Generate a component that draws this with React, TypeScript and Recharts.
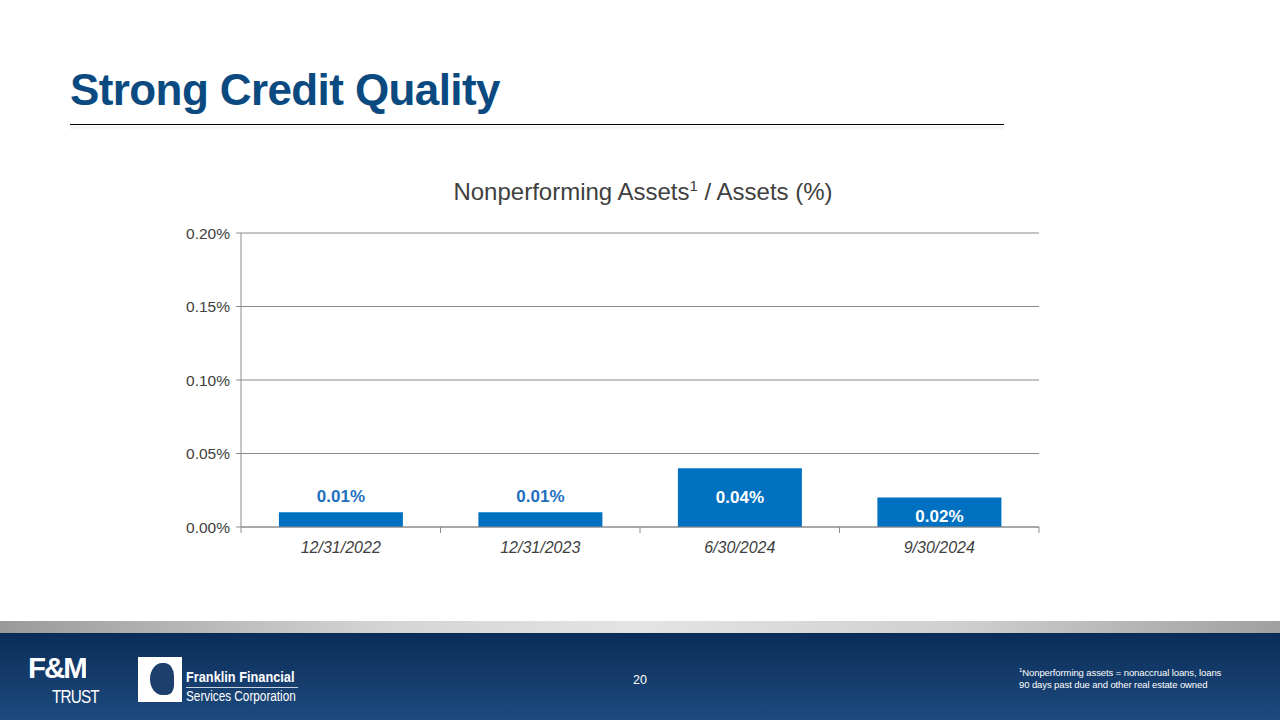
import { BarChart, Bar, XAxis, YAxis, CartesianGrid, LabelList } from 'recharts';

const categories = ['12/31/2022', '12/31/2023', '6/30/2024', '9/30/2024'];
const ratios = [0.01, 0.01, 0.04, 0.02];
const ratioLabels = ['0.01%', '0.01%', '0.04%', '0.02%'];
const yTicks = [0, 0.05, 0.1, 0.15, 0.2];

const data = categories.map((c, i) => ({ date: c, ratio: ratios[i], label: ratioLabels[i] }));

const FONT = '"Liberation Sans", Arial, sans-serif';
const BAR_BLUE = '#0070c0';
const GRID = '#8c8c8c';

function BarLabel(props: any) {
  const { x, y, width, height, index, value } = props;
  const cx = x + width / 2;
  // small bars get the label above, taller ones inside in white
  if (index < 2) {
    return (
      <text x={cx} y={y - 16} textAnchor="middle" dominantBaseline="central" fill="#1f6fbf" fontSize={17} fontWeight="bold" fontFamily={FONT}>
        {value}
      </text>
    );
  }
  const cy = index === 3 ? y + height / 2 + 4 : y + height / 2;
  return (
    <text x={cx} y={cy} textAnchor="middle" dominantBaseline="central" fill="#ffffff" fontSize={17} fontWeight="bold" fontFamily={FONT}>
      {value}
    </text>
  );
}

// category label plus the tick marks on the category boundaries
function DateTick(props: any) {
  const { x, y, payload, index, visibleTicksCount } = props;
  const half = payload.offset || 0;
  return (
    <g>
      <line x1={x - half} x2={x - half} y1={y} y2={y + 6} stroke={GRID} />
      {index === visibleTicksCount - 1 && <line x1={x + half} x2={x + half} y1={y} y2={y + 6} stroke={GRID} />}
      <text x={x} y={y + 26} textAnchor="middle" fill="#404040" fontSize={16} fontStyle="italic" fontFamily={FONT}>
        {payload.value}
      </text>
    </g>
  );
}

export default function App() {
  return (
    <div style={{ position: 'absolute', left: 0, top: 0, width: 1280, height: 720, background: '#fff', fontFamily: FONT, overflow: 'hidden' }}>
      <div style={{ position: 'absolute', left: 70, top: 65, fontSize: 44, fontWeight: 'bold', color: '#0b4a80', letterSpacing: -0.6, whiteSpace: 'nowrap' }}>
        Strong Credit Quality
      </div>
      <div style={{ position: 'absolute', left: 70, top: 124, width: 934, height: 1, background: '#000', boxShadow: '0 3px 3px rgba(0,0,0,0.18)' }} />

      <div style={{ position: 'absolute', left: 0, top: 177, width: 1286, textAlign: 'center', fontSize: 24, color: '#404040' }}>
        Nonperforming Assets<sup style={{ fontSize: 15 }}>1</sup> / Assets (%)
      </div>

      <div style={{ position: 'absolute', left: 150, top: 220 }}>
        <BarChart width={920} height={360} data={data} margin={{ top: 13, right: 31, left: 0, bottom: 23 }} barCategoryGap="19%">
          <CartesianGrid vertical={false} stroke={GRID} />
          <XAxis dataKey="date" height={30} tickLine={false} tickSize={0} tickMargin={0} stroke={GRID} tick={<DateTick />} interval={0} />
          <YAxis
            width={91}
            domain={[0, 0.2]}
            ticks={yTicks}
            stroke={GRID}
            tickSize={5}
            tickMargin={6}
            tickFormatter={(v: number) => `${v.toFixed(2)}%`}
            tick={{ fill: '#404040', fontSize: 15.5, fontFamily: FONT }}
          />
          <Bar dataKey="ratio" fill={BAR_BLUE} isAnimationActive={false}>
            <LabelList dataKey="label" content={<BarLabel />} />
          </Bar>
        </BarChart>
      </div>

      <div style={{ position: 'absolute', left: 0, top: 621, width: 1280, height: 12, background: 'linear-gradient(90deg, #9a9a9a 0%, #d4d4d4 30%, #e4e4e4 50%, #cfcfcf 75%, #a0a0a0 100%)' }} />
      <div style={{ position: 'absolute', left: 0, top: 633, width: 1280, height: 87, background: 'linear-gradient(180deg, #0a2d58 0%, #163e6e 60%, #1c4a7f 100%)' }} />

      <div style={{ position: 'absolute', left: 28, top: 653, color: '#fff', fontWeight: 'bold', fontSize: 30, lineHeight: '30px', letterSpacing: -2, transform: 'scaleX(0.98)', transformOrigin: 'left top' }}>F&amp;M</div>
      <div style={{ position: 'absolute', left: 52, top: 688, color: '#fff', fontSize: 18, lineHeight: '18px', letterSpacing: -1, transform: 'scaleX(0.85)', transformOrigin: 'left top' }}>TRUST</div>
      <div style={{ position: 'absolute', left: 138, top: 657, width: 44, height: 45, background: '#fff' }} />
      <div style={{ position: 'absolute', left: 150, top: 663, width: 24, height: 32, borderRadius: '50% 40% 30% 50%', background: '#1c3f6e' }} />
      <div style={{ position: 'absolute', left: 186, top: 669, color: '#fff', fontSize: 14.5, fontWeight: 'bold', lineHeight: '16px', transform: 'scaleX(0.88)', transformOrigin: 'left top', whiteSpace: 'nowrap' }}>Franklin Financial</div>
      <div style={{ position: 'absolute', left: 186, top: 687, width: 112, height: 1, background: '#c8d2e0' }} />
      <div style={{ position: 'absolute', left: 186, top: 689, color: '#fff', fontSize: 14, lineHeight: '15px', transform: 'scaleX(0.84)', transformOrigin: 'left top', whiteSpace: 'nowrap' }}>Services Corporation</div>

      <div style={{ position: 'absolute', left: 628, top: 673, width: 24, textAlign: 'center', color: '#fff', fontSize: 12.5 }}>20</div>

      <div style={{ position: 'absolute', left: 1019, top: 664, color: '#fff', fontSize: 9.5, lineHeight: '12px', letterSpacing: -0.1, whiteSpace: 'nowrap' }}>
        <sup style={{ fontSize: 6 }}>1</sup>Nonperforming assets = nonaccrual loans, loans
        <br />
        90 days past due and other real estate owned
      </div>
    </div>
  );
}
